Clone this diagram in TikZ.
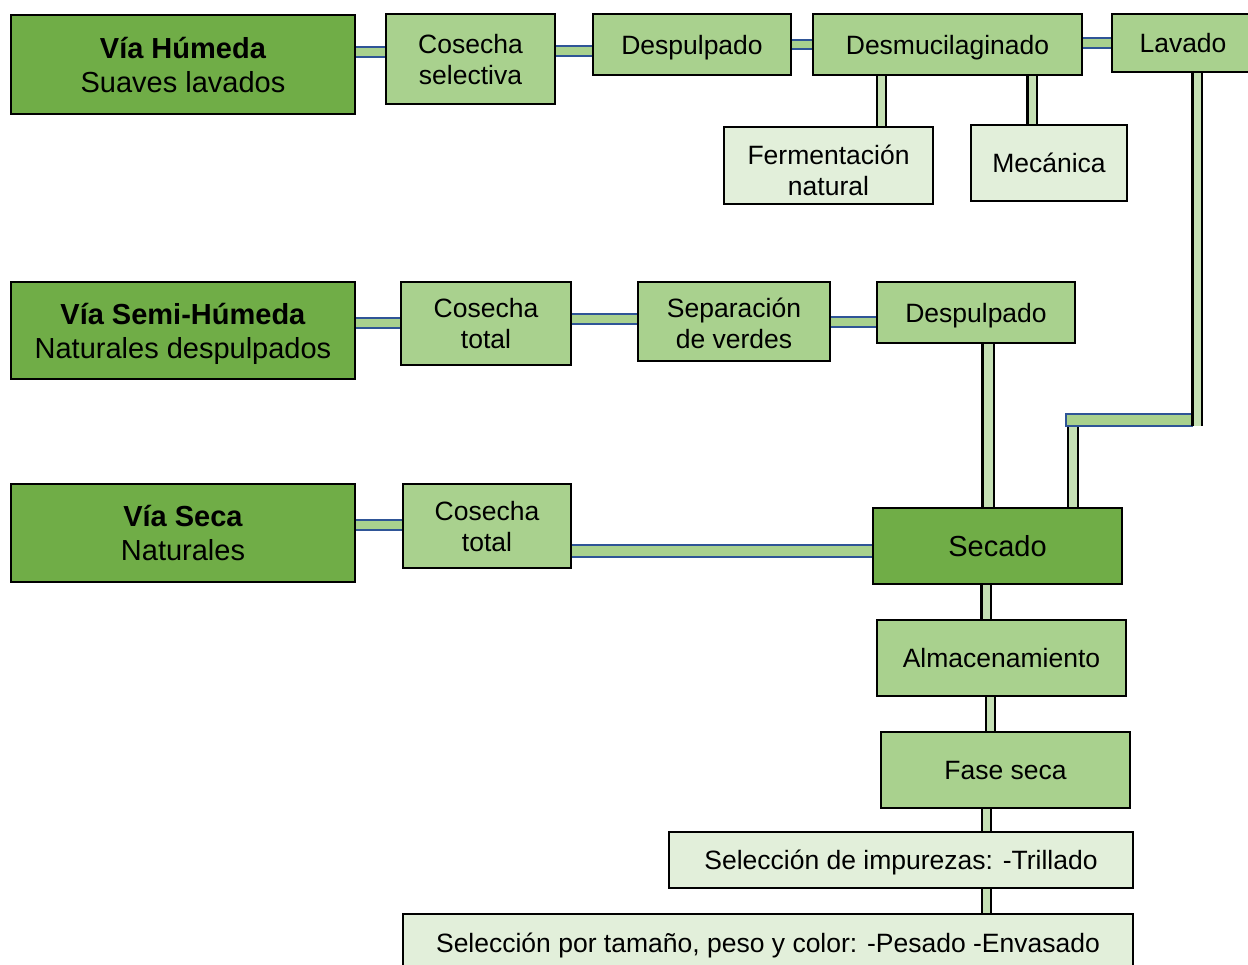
\documentclass[tikz,border=0pt]{standalone}
\usepackage{fontspec}
\setmainfont{Liberation Sans}
\usetikzlibrary{backgrounds}
\definecolor{dg}{HTML}{70AD47}
\definecolor{mg}{HTML}{A9D18E}
\definecolor{lg}{HTML}{E2EFDA}
\definecolor{vg}{HTML}{C5E0B4}
\definecolor{cb}{HTML}{2F5597}
\begin{document}
\begin{tikzpicture}[x=1pt,y=-1pt,
  box/.style={draw=black, line width=2.2pt, inner sep=0pt, align=center,
    font=\fontsize{26.5}{31}\selectfont, text=black, text depth=0pt},
  dbox/.style={box, fill=dg, font=\fontsize{29}{34}\selectfont},
  mbox/.style={box, fill=mg},
  lbox/.style={box, fill=lg},
  txt/.style={inner sep=0pt, align=center, font=\fontsize{26.5}{31}\selectfont, text=black},
  hconn/.style={draw=cb, line width=2pt, double=mg, double distance=7.5pt},
  vconn/.style={draw=black, line width=2.2pt, double=vg, double distance=7pt},
  hbar/.style={draw=cb, line width=2pt, fill=mg},
]
\useasboundingbox (0,0) rectangle (1248,965);

% boxes
\node[dbox, minimum width=344pt, minimum height=99pt] (vh) at (183,64.5) {\textbf{Vía Húmeda}\\Suaves lavados};
\node[mbox, minimum width=169pt, minimum height=90pt] (cs) at (470.5,59) {Cosecha\\selectiva};
\node[mbox, minimum width=198pt, minimum height=61pt] (d1) at (692,44.5) {Despulpado};
\node[mbox, minimum width=269pt, minimum height=61pt] (dm) at (947.5,44.5) {Desmucilaginado};
\node[mbox, minimum width=142pt, minimum height=58pt] (lav) at (1183,43) {Lavado};
\node[lbox, minimum width=209pt, minimum height=77pt,
  label={[txt, yshift=-4.5pt]center:{Fermentación\\natural}}] (fer) at (828.5,165.5) {};
\node[lbox, minimum width=156pt, minimum height=76pt] (mec) at (1049,163) {Mecánica};

\node[dbox, minimum width=344pt, minimum height=97pt] (sh) at (183,330.5) {\textbf{Vía Semi-Húmeda}\\Naturales despulpados};
\node[mbox, minimum width=170pt, minimum height=83pt] (ct1) at (486,323.5) {Cosecha\\total};
\node[mbox, minimum width=192pt, minimum height=79pt,
  label={[txt, yshift=-1.5pt]center:{Separación\\de verdes}}] (sep) at (734,321.5) {};
\node[mbox, minimum width=198pt, minimum height=61pt] (d2) at (976,312.5) {Despulpado};

\node[dbox, minimum width=344pt, minimum height=98pt] (vs) at (183,533) {\textbf{Vía Seca}\\Naturales};
\node[mbox, minimum width=168pt, minimum height=84pt] (ct2) at (487,526) {Cosecha\\total};
\node[dbox, minimum width=249pt, minimum height=76pt] (sec) at (997.5,546) {Secado};
\node[mbox, minimum width=249pt, minimum height=76pt] (alm) at (1001.5,658) {Almacenamiento};
\node[mbox, minimum width=249pt, minimum height=76pt] (fas) at (1005.5,770) {Fase seca};
\node[lbox, minimum width=464pt, minimum height=56pt] (si) at (901,860) {Selección de impurezas: -Trillado};
\node[lbox, minimum width=730pt, minimum height=58pt] (sp) at (768,943) {Selección por tamaño, peso y color: -Pesado -Envasado};

% connectors
\begin{scope}[on background layer]
\draw[hconn] (vh.east |- 0,52) -- (cs.west |- 0,52);
\draw[hconn] (cs.east |- 0,51) -- (d1.west |- 0,51);
\draw[hconn] (d1.east |- 0,44.5) -- (dm.west |- 0,44.5);
\draw[hconn] (dm.east |- 0,43) -- (lav.west |- 0,43);
\draw[vconn] (dm.south -| 881.5,0) -- (fer.north -| 881.5,0);
\draw[vconn] (dm.south -| 1032,0) -- (mec.north -| 1032,0);

\draw[hconn] (sh.east |- 0,323) -- (ct1.west |- 0,323);
\draw[hconn] (ct1.east |- 0,319) -- (sep.west |- 0,319);
\draw[hconn] (sep.east |- 0,322) -- (d2.west |- 0,322);
\draw[vconn, double distance=9pt] (d2.south -| 988,0) -- (sec.north -| 988,0);

\draw[hconn] (vs.east |- 0,525) -- (ct2.west |- 0,525);
\draw[hconn, double distance=10pt] (ct2.east |- 0,551) -- (sec.west |- 0,551);

\coordinate (lb) at (1073,420);
\coordinate (hl) at (1066,414);
\coordinate (hr) at (1192,426);
\coordinate (lr) at (1197,426);
\draw[vconn, double distance=8pt] (lb) -- (lb |- sec.north);
\draw[hbar] (hl) rectangle (hr);
\draw[vconn] (lav.south -| lr) -- (lr);

\draw[vconn] (sec.south -| 986,0) -- (alm.north -| 986,0);
\draw[vconn] (alm.south -| 990.5,0) -- (fas.north -| 990.5,0);
\draw[vconn] (fas.south -| 986.5,0) -- (si.north -| 986.5,0);
\draw[vconn] (si.south -| 986.5,0) -- (sp.north -| 986.5,0);
\end{scope}
\end{tikzpicture}
\end{document}
